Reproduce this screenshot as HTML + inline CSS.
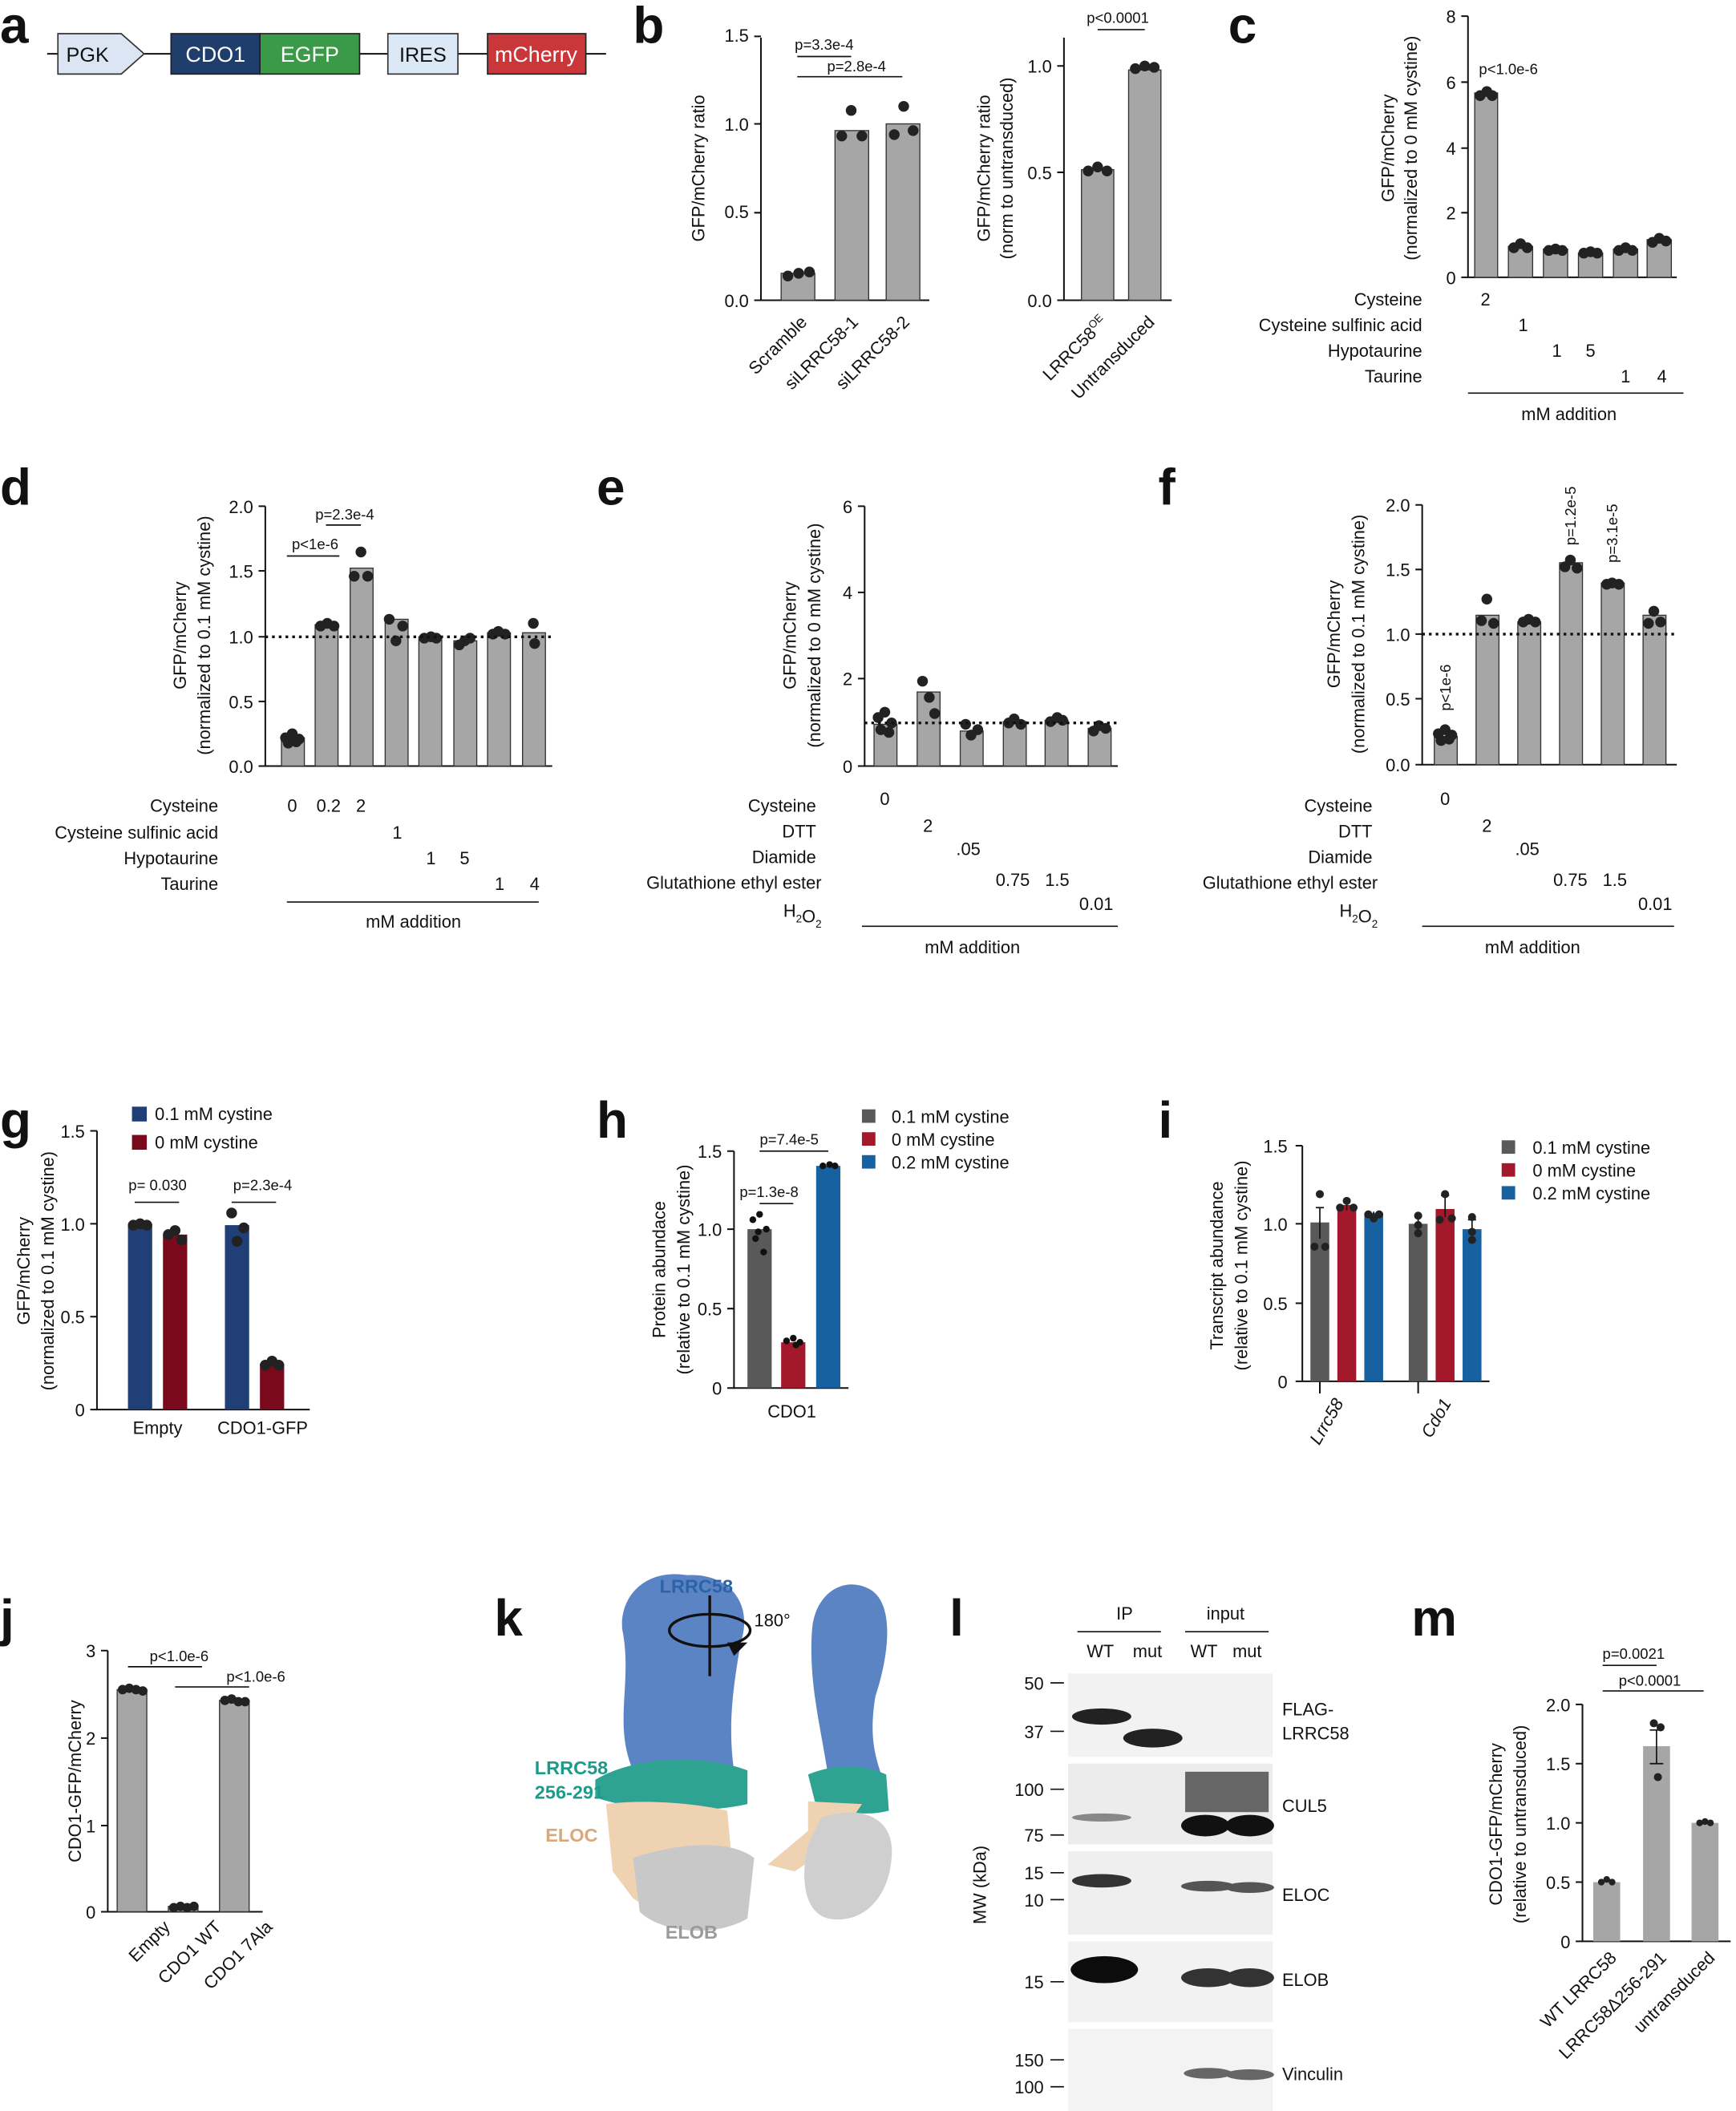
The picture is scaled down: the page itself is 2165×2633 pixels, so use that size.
<!DOCTYPE html>
<html><head><meta charset="utf-8"><style>
html,body{margin:0;padding:0;background:#fff}
svg{display:block}
text{font-family:"Liberation Sans",Arial,sans-serif;fill:#111}
.L{font-size:38px;font-weight:bold}
.t{font-size:13px}
.s{font-size:11px}
.ax{stroke:#111;stroke-width:1.2;fill:none}
.bar{fill:#a6a6a6;stroke:#333;stroke-width:0.8}
.dot{fill:#222}
.dash{stroke:#111;stroke-width:2;stroke-dasharray:2 3}
</style></head><body>
<svg width="2165" height="2633" viewBox="0 0 1289 1568" preserveAspectRatio="none" xmlns="http://www.w3.org/2000/svg">
<!-- a -->
<text class="L" x="0" y="32">a</text>
<line x1="35" y1="40" x2="450" y2="40" stroke="#111" stroke-width="1.2"/>
<polygon points="43,25 90,25 107,40 90,55 43,55" fill="#dbe5f4" stroke="#333"/>
<text x="65" y="46" font-size="15" text-anchor="middle">PGK</text>
<rect x="127" y="25" width="66" height="30" fill="#1f3e6c" stroke="#222"/>
<text x="160" y="46" font-size="16" text-anchor="middle" style="fill:#fff">CDO1</text>
<rect x="193" y="25" width="74" height="30" fill="#3b9a48" stroke="#222"/>
<text x="230" y="46" font-size="16" text-anchor="middle" style="fill:#fff">EGFP</text>
<rect x="288" y="25" width="52" height="30" fill="#dbe8f6" stroke="#333"/>
<text x="314" y="46" font-size="15" text-anchor="middle">IRES</text>
<rect x="362" y="25" width="73" height="30" fill="#c9373b" stroke="#222"/>
<text x="398" y="46" font-size="16" text-anchor="middle" style="fill:#fff">mCherry</text>

<!-- b -->
<text class="L" x="470" y="32">b</text>
<g>
<path class="ax" d="M565,28 V223 H690"/>
<path class="ax" d="M560,27H565M560,92H565M560,158H565M560,223H565"/>
<text class="t" x="556" y="31" text-anchor="end">1.5</text>
<text class="t" x="556" y="97" text-anchor="end">1.0</text>
<text class="t" x="556" y="162" text-anchor="end">0.5</text>
<text class="t" x="556" y="228" text-anchor="end">0.0</text>
<text class="t" transform="translate(523,125) rotate(-90)" text-anchor="middle">GFP/mCherry ratio</text>
<rect class="bar" x="580" y="203" width="25" height="20"/>
<rect class="bar" x="620" y="97" width="25" height="126"/>
<rect class="bar" x="658" y="92" width="25" height="131"/>
<circle class="dot" cx="585" cy="205" r="4"/><circle class="dot" cx="593" cy="203" r="4"/><circle class="dot" cx="601" cy="202" r="4"/>
<circle class="dot" cx="625" cy="101" r="4"/><circle class="dot" cx="632" cy="82" r="4"/><circle class="dot" cx="640" cy="101" r="4"/>
<circle class="dot" cx="664" cy="100" r="4"/><circle class="dot" cx="671" cy="79" r="4"/><circle class="dot" cx="678" cy="97" r="4"/>
<line x1="592" y1="42" x2="632" y2="42" stroke="#111"/><text class="s" x="612" y="37" text-anchor="middle">p=3.3e-4</text>
<line x1="592" y1="57" x2="670" y2="57" stroke="#111"/><text class="s" x="636" y="53" text-anchor="middle">p=2.8e-4</text>
<text class="t" transform="translate(600,240) rotate(-45)" text-anchor="end">Scramble</text>
<text class="t" transform="translate(638,240) rotate(-45)" text-anchor="end">siLRRC58-1</text>
<text class="t" transform="translate(676,240) rotate(-45)" text-anchor="end">siLRRC58-2</text>
</g>
<g>
<path class="ax" d="M790,28 V223 H870"/>
<path class="ax" d="M785,49H790M785,128H790M785,223H790"/>
<text class="t" x="781" y="54" text-anchor="end">1.0</text>
<text class="t" x="781" y="133" text-anchor="end">0.5</text>
<text class="t" x="781" y="228" text-anchor="end">0.0</text>
<text class="t" transform="translate(735,125) rotate(-90)" text-anchor="middle">GFP/mCherry ratio</text>
<text class="t" transform="translate(752,125) rotate(-90)" text-anchor="middle">(norm to untransduced)</text>
<rect class="bar" x="803" y="126" width="24" height="97"/>
<rect class="bar" x="838" y="52" width="24" height="171"/>
<circle class="dot" cx="808" cy="127" r="4"/><circle class="dot" cx="815" cy="124" r="4"/><circle class="dot" cx="822" cy="127" r="4"/>
<circle class="dot" cx="843" cy="51" r="4"/><circle class="dot" cx="850" cy="49" r="4"/><circle class="dot" cx="857" cy="50" r="4"/>
<line x1="815" y1="22" x2="850" y2="22" stroke="#111"/><text class="s" x="830" y="17" text-anchor="middle">p&lt;0.0001</text>
<text class="t" transform="translate(823,240) rotate(-45)" text-anchor="end">LRRC58<tspan font-size="8" dy="-5">OE</tspan></text>
<text class="t" transform="translate(858,240) rotate(-45)" text-anchor="end">Untransduced</text>
</g>

<!-- c -->
<text class="L" x="912" y="32">c</text>
<g>
<path class="ax" d="M1090,12 V206 H1245"/>
<path class="ax" d="M1085,12H1090M1085,61H1090M1085,110H1090M1085,158H1090M1085,206H1090"/>
<text class="t" x="1081" y="17" text-anchor="end">8</text>
<text class="t" x="1081" y="66" text-anchor="end">6</text>
<text class="t" x="1081" y="115" text-anchor="end">4</text>
<text class="t" x="1081" y="163" text-anchor="end">2</text>
<text class="t" x="1081" y="211" text-anchor="end">0</text>
<text class="t" transform="translate(1035,110) rotate(-90)" text-anchor="middle">GFP/mCherry</text>
<text class="t" transform="translate(1052,110) rotate(-90)" text-anchor="middle">(normalized to 0 mM cystine)</text>
<rect class="bar" x="1095" y="69" width="17" height="137"/>
<rect class="bar" x="1120" y="183" width="18" height="23"/>
<rect class="bar" x="1146" y="185" width="18" height="21"/>
<rect class="bar" x="1172" y="188" width="18" height="18"/>
<rect class="bar" x="1198" y="185" width="18" height="21"/>
<rect class="bar" x="1223" y="178" width="18" height="28"/>
<circle class="dot" cx="1099" cy="71" r="4"/><circle class="dot" cx="1104" cy="68" r="4"/><circle class="dot" cx="1108" cy="71" r="4"/>
<circle class="dot" cx="1124" cy="184" r="4"/><circle class="dot" cx="1129" cy="181" r="4"/><circle class="dot" cx="1134" cy="184" r="4"/>
<circle class="dot" cx="1150" cy="186" r="4"/><circle class="dot" cx="1155" cy="185" r="4"/><circle class="dot" cx="1160" cy="186" r="4"/>
<circle class="dot" cx="1176" cy="188" r="4"/><circle class="dot" cx="1181" cy="187" r="4"/><circle class="dot" cx="1186" cy="188" r="4"/>
<circle class="dot" cx="1202" cy="186" r="4"/><circle class="dot" cx="1207" cy="184" r="4"/><circle class="dot" cx="1212" cy="186" r="4"/>
<circle class="dot" cx="1227" cy="180" r="4"/><circle class="dot" cx="1232" cy="177" r="4"/><circle class="dot" cx="1237" cy="179" r="4"/>
<text class="s" x="1120" y="55" text-anchor="middle">p&lt;1.0e-6</text>
<text class="t" x="1056" y="227" text-anchor="end">Cysteine</text>
<text class="t" x="1056" y="246" text-anchor="end">Cysteine sulfinic acid</text>
<text class="t" x="1056" y="265" text-anchor="end">Hypotaurine</text>
<text class="t" x="1056" y="284" text-anchor="end">Taurine</text>
<text class="t" x="1103" y="227" text-anchor="middle">2</text>
<text class="t" x="1131" y="246" text-anchor="middle">1</text>
<text class="t" x="1156" y="265" text-anchor="middle">1</text><text class="t" x="1181" y="265" text-anchor="middle">5</text>
<text class="t" x="1207" y="284" text-anchor="middle">1</text><text class="t" x="1234" y="284" text-anchor="middle">4</text>
<line x1="1090" y1="292" x2="1250" y2="292" stroke="#111"/>
<text class="t" x="1165" y="312" text-anchor="middle">mM addition</text>
</g>

<!-- d -->
<text class="L" x="0" y="375">d</text>
<g>
<path class="ax" d="M197,376 V569 H410"/>
<path class="ax" d="M192,376H197M192,424H197M192,473H197M192,521H197M192,569H197"/>
<text class="t" x="188" y="381" text-anchor="end">2.0</text>
<text class="t" x="188" y="429" text-anchor="end">1.5</text>
<text class="t" x="188" y="478" text-anchor="end">1.0</text>
<text class="t" x="188" y="526" text-anchor="end">0.5</text>
<text class="t" x="188" y="574" text-anchor="end">0.0</text>
<text class="t" transform="translate(138,472) rotate(-90)" text-anchor="middle">GFP/mCherry</text>
<text class="t" transform="translate(156,472) rotate(-90)" text-anchor="middle">(normalized to 0.1 mM cystine)</text>
<rect class="bar" x="209" y="548" width="17" height="21"/>
<rect class="bar" x="234" y="464" width="17" height="105"/>
<rect class="bar" x="260" y="422" width="17" height="147"/>
<rect class="bar" x="286" y="460" width="17" height="109"/>
<rect class="bar" x="311" y="473" width="17" height="96"/>
<rect class="bar" x="337" y="476" width="17" height="93"/>
<rect class="bar" x="362" y="470" width="17" height="99"/>
<rect class="bar" x="388" y="470" width="17" height="99"/>
<circle class="dot" cx="212" cy="548" r="4"/><circle class="dot" cx="217" cy="545" r="4"/><circle class="dot" cx="222" cy="549" r="4"/><circle class="dot" cx="214" cy="552" r="4"/><circle class="dot" cx="220" cy="551" r="4"/>
<circle class="dot" cx="238" cy="465" r="4"/><circle class="dot" cx="243" cy="463" r="4"/><circle class="dot" cx="248" cy="465" r="4"/>
<circle class="dot" cx="263" cy="428" r="4"/><circle class="dot" cx="268" cy="410" r="4"/><circle class="dot" cx="273" cy="428" r="4"/>
<circle class="dot" cx="289" cy="460" r="4"/><circle class="dot" cx="294" cy="476" r="4"/><circle class="dot" cx="299" cy="465" r="4"/>
<circle class="dot" cx="315" cy="474" r="4"/><circle class="dot" cx="320" cy="473" r="4"/><circle class="dot" cx="324" cy="474" r="4"/>
<circle class="dot" cx="341" cy="479" r="4"/><circle class="dot" cx="345" cy="476" r="4"/><circle class="dot" cx="349" cy="474" r="4"/>
<circle class="dot" cx="366" cy="471" r="4"/><circle class="dot" cx="370" cy="469" r="4"/><circle class="dot" cx="375" cy="471" r="4"/>
<circle class="dot" cx="396" cy="463" r="4"/><circle class="dot" cx="397" cy="478" r="4"/>
<line x1="197" y1="473" x2="410" y2="473" class="dash"/>
<line x1="213" y1="413" x2="252" y2="413" stroke="#111"/><text class="s" x="234" y="408" text-anchor="middle">p&lt;1e-6</text>
<line x1="242" y1="390" x2="268" y2="390" stroke="#111"/><text class="s" x="256" y="386" text-anchor="middle">p=2.3e-4</text>
<text class="t" x="162" y="603" text-anchor="end">Cysteine</text>
<text class="t" x="162" y="623" text-anchor="end">Cysteine sulfinic acid</text>
<text class="t" x="162" y="642" text-anchor="end">Hypotaurine</text>
<text class="t" x="162" y="661" text-anchor="end">Taurine</text>
<text class="t" x="217" y="603" text-anchor="middle">0</text><text class="t" x="244" y="603" text-anchor="middle">0.2</text><text class="t" x="268" y="603" text-anchor="middle">2</text>
<text class="t" x="295" y="623" text-anchor="middle">1</text>
<text class="t" x="320" y="642" text-anchor="middle">1</text><text class="t" x="345" y="642" text-anchor="middle">5</text>
<text class="t" x="371" y="661" text-anchor="middle">1</text><text class="t" x="397" y="661" text-anchor="middle">4</text>
<line x1="213" y1="670" x2="400" y2="670" stroke="#111"/>
<text class="t" x="307" y="689" text-anchor="middle">mM addition</text>
</g>

<!-- e -->
<text class="L" x="443" y="375">e</text>
<g>
<path class="ax" d="M642,376 V569 H830"/>
<path class="ax" d="M637,376H642M637,440H642M637,504H642M637,569H642"/>
<text class="t" x="633" y="381" text-anchor="end">6</text>
<text class="t" x="633" y="445" text-anchor="end">4</text>
<text class="t" x="633" y="509" text-anchor="end">2</text>
<text class="t" x="633" y="574" text-anchor="end">0</text>
<text class="t" transform="translate(591,472) rotate(-90)" text-anchor="middle">GFP/mCherry</text>
<text class="t" transform="translate(609,472) rotate(-90)" text-anchor="middle">(normalized to 0 mM cystine)</text>
<rect class="bar" x="649" y="538" width="17" height="31"/>
<rect class="bar" x="681" y="514" width="17" height="55"/>
<rect class="bar" x="713" y="543" width="17" height="26"/>
<rect class="bar" x="745" y="536" width="17" height="33"/>
<rect class="bar" x="776" y="535" width="17" height="34"/>
<rect class="bar" x="808" y="541" width="17" height="28"/>
<circle class="dot" cx="652" cy="533" r="4"/><circle class="dot" cx="657" cy="529" r="4"/><circle class="dot" cx="662" cy="537" r="4"/><circle class="dot" cx="654" cy="542" r="4"/><circle class="dot" cx="660" cy="544" r="4"/>
<circle class="dot" cx="685" cy="506" r="4"/><circle class="dot" cx="690" cy="518" r="4"/><circle class="dot" cx="694" cy="530" r="4"/>
<circle class="dot" cx="717" cy="538" r="4"/><circle class="dot" cx="721" cy="546" r="4"/><circle class="dot" cx="726" cy="542" r="4"/>
<circle class="dot" cx="749" cy="537" r="4"/><circle class="dot" cx="753" cy="534" r="4"/><circle class="dot" cx="758" cy="538" r="4"/>
<circle class="dot" cx="780" cy="536" r="4"/><circle class="dot" cx="785" cy="533" r="4"/><circle class="dot" cx="789" cy="535" r="4"/>
<circle class="dot" cx="812" cy="543" r="4"/><circle class="dot" cx="816" cy="539" r="4"/><circle class="dot" cx="821" cy="541" r="4"/>
<line x1="642" y1="537" x2="830" y2="537" class="dash"/>
<text class="t" x="606" y="603" text-anchor="end">Cysteine</text>
<text class="t" x="606" y="622" text-anchor="end">DTT</text>
<text class="t" x="606" y="641" text-anchor="end">Diamide</text>
<text class="t" x="610" y="660" text-anchor="end">Glutathione ethyl ester</text>
<text class="t" x="610" y="681" text-anchor="end">H<tspan font-size="8" dy="4">2</tspan>O<tspan font-size="8" dy="4">2</tspan></text>
<text class="t" x="657" y="598" text-anchor="middle">0</text>
<text class="t" x="689" y="618" text-anchor="middle">2</text>
<text class="t" x="719" y="635" text-anchor="middle">.05</text>
<text class="t" x="752" y="658" text-anchor="middle">0.75</text><text class="t" x="785" y="658" text-anchor="middle">1.5</text>
<text class="t" x="814" y="676" text-anchor="middle">0.01</text>
<line x1="640" y1="688" x2="830" y2="688" stroke="#111"/>
<text class="t" x="722" y="708" text-anchor="middle">mM addition</text>
</g>

<!-- f -->
<text class="L" x="860" y="375">f</text>
<g>
<path class="ax" d="M1056,375 V568 H1245"/>
<path class="ax" d="M1051,375H1056M1051,423H1056M1051,471H1056M1051,519H1056M1051,568H1056"/>
<text class="t" x="1047" y="380" text-anchor="end">2.0</text>
<text class="t" x="1047" y="428" text-anchor="end">1.5</text>
<text class="t" x="1047" y="476" text-anchor="end">1.0</text>
<text class="t" x="1047" y="524" text-anchor="end">0.5</text>
<text class="t" x="1047" y="573" text-anchor="end">0.0</text>
<text class="t" transform="translate(995,471) rotate(-90)" text-anchor="middle">GFP/mCherry</text>
<text class="t" transform="translate(1013,471) rotate(-90)" text-anchor="middle">(normalized to 0.1 mM cystine)</text>
<rect class="bar" x="1065" y="547" width="17" height="21"/>
<rect class="bar" x="1096" y="457" width="17" height="111"/>
<rect class="bar" x="1127" y="462" width="17" height="106"/>
<rect class="bar" x="1158" y="418" width="17" height="150"/>
<rect class="bar" x="1189" y="433" width="17" height="135"/>
<rect class="bar" x="1220" y="457" width="17" height="111"/>
<circle class="dot" cx="1068" cy="545" r="4"/><circle class="dot" cx="1073" cy="542" r="4"/><circle class="dot" cx="1078" cy="546" r="4"/><circle class="dot" cx="1070" cy="550" r="4"/><circle class="dot" cx="1076" cy="549" r="4"/>
<circle class="dot" cx="1100" cy="461" r="4"/><circle class="dot" cx="1104" cy="445" r="4"/><circle class="dot" cx="1109" cy="463" r="4"/>
<circle class="dot" cx="1131" cy="462" r="4"/><circle class="dot" cx="1135" cy="460" r="4"/><circle class="dot" cx="1140" cy="462" r="4"/>
<circle class="dot" cx="1162" cy="421" r="4"/><circle class="dot" cx="1166" cy="416" r="4"/><circle class="dot" cx="1171" cy="422" r="4"/>
<circle class="dot" cx="1193" cy="434" r="4"/><circle class="dot" cx="1197" cy="433" r="4"/><circle class="dot" cx="1202" cy="434" r="4"/>
<circle class="dot" cx="1224" cy="463" r="4"/><circle class="dot" cx="1228" cy="454" r="4"/><circle class="dot" cx="1233" cy="462" r="4"/>
<line x1="1056" y1="471" x2="1245" y2="471" class="dash"/>
<text class="s" transform="translate(1077,528) rotate(-90)">p&lt;1e-6</text>
<text class="s" transform="translate(1170,405) rotate(-90)">p=1.2e-5</text>
<text class="s" transform="translate(1201,418) rotate(-90)">p=3.1e-5</text>
<text class="t" x="1019" y="603" text-anchor="end">Cysteine</text>
<text class="t" x="1019" y="622" text-anchor="end">DTT</text>
<text class="t" x="1019" y="641" text-anchor="end">Diamide</text>
<text class="t" x="1023" y="660" text-anchor="end">Glutathione ethyl ester</text>
<text class="t" x="1023" y="681" text-anchor="end">H<tspan font-size="8" dy="4">2</tspan>O<tspan font-size="8" dy="4">2</tspan></text>
<text class="t" x="1073" y="598" text-anchor="middle">0</text>
<text class="t" x="1104" y="618" text-anchor="middle">2</text>
<text class="t" x="1134" y="635" text-anchor="middle">.05</text>
<text class="t" x="1166" y="658" text-anchor="middle">0.75</text><text class="t" x="1199" y="658" text-anchor="middle">1.5</text>
<text class="t" x="1229" y="676" text-anchor="middle">0.01</text>
<line x1="1056" y1="688" x2="1243" y2="688" stroke="#111"/>
<text class="t" x="1138" y="708" text-anchor="middle">mM addition</text>
</g>

<!-- g -->
<text class="L" x="0" y="845">g</text>
<g>
<path class="ax" d="M72,840 V1047 H230"/>
<path class="ax" d="M67,840H72M67,909H72M67,978H72M67,1047H72"/>
<text class="t" x="63" y="845" text-anchor="end">1.5</text>
<text class="t" x="63" y="914" text-anchor="end">1.0</text>
<text class="t" x="63" y="983" text-anchor="end">0.5</text>
<text class="t" x="63" y="1052" text-anchor="end">0</text>
<text class="t" transform="translate(22,944) rotate(-90)" text-anchor="middle">GFP/mCherry</text>
<text class="t" transform="translate(40,944) rotate(-90)" text-anchor="middle">(normalized to 0.1 mM cystine)</text>
<rect x="98" y="822" width="11" height="11" fill="#1f3f76"/><text class="t" x="115" y="832">0.1 mM cystine</text>
<rect x="98" y="843" width="11" height="11" fill="#7a0a1b"/><text class="t" x="115" y="853">0 mM cystine</text>
<rect x="95" y="909" width="18" height="138" fill="#1f3f76"/>
<rect x="121" y="917" width="18" height="130" fill="#7a0a1b"/>
<rect x="167" y="910" width="18" height="137" fill="#1f3f76"/>
<rect x="193" y="1013" width="18" height="34" fill="#7a0a1b"/>
<circle class="dot" cx="99" cy="910" r="4"/><circle class="dot" cx="104" cy="909" r="4"/><circle class="dot" cx="109" cy="910" r="4"/>
<circle class="dot" cx="125" cy="917" r="4"/><circle class="dot" cx="130" cy="914" r="4"/><circle class="dot" cx="135" cy="921" r="4"/>
<circle class="dot" cx="172" cy="901" r="4"/><circle class="dot" cx="176" cy="922" r="4"/><circle class="dot" cx="181" cy="912" r="4"/>
<circle class="dot" cx="197" cy="1014" r="4"/><circle class="dot" cx="202" cy="1011" r="4"/><circle class="dot" cx="207" cy="1014" r="4"/>
<text class="s" x="117" y="884" text-anchor="middle">p= 0.030</text>
<line x1="100" y1="893" x2="133" y2="893" stroke="#111"/>
<text class="s" x="195" y="884" text-anchor="middle">p=2.3e-4</text>
<line x1="172" y1="893" x2="205" y2="893" stroke="#111"/>
<text class="t" x="117" y="1065" text-anchor="middle">Empty</text>
<text class="t" x="195" y="1065" text-anchor="middle">CDO1-GFP</text>
</g>

<!-- h -->
<text class="L" x="443" y="845">h</text>
<g>
<path class="ax" d="M545,855 V1031 H630"/>
<path class="ax" d="M540,855H545M540,913H545M540,972H545M540,1031H545"/>
<text class="t" x="536" y="860" text-anchor="end">1.5</text>
<text class="t" x="536" y="918" text-anchor="end">1.0</text>
<text class="t" x="536" y="977" text-anchor="end">0.5</text>
<text class="t" x="536" y="1036" text-anchor="end">0</text>
<text class="t" transform="translate(494,943) rotate(-90)" text-anchor="middle">Protein abundace</text>
<text class="t" transform="translate(512,943) rotate(-90)" text-anchor="middle">(relative to 0.1 mM cystine)</text>
<rect x="555" y="913" width="18" height="118" fill="#595959"/>
<rect x="580" y="997" width="18" height="34" fill="#a3182b"/>
<rect x="606" y="866" width="18" height="165" fill="#1761a0"/>
<circle cx="559" cy="906" r="2.5" fill="#111"/><circle cx="564" cy="902" r="2.5" fill="#111"/><circle cx="569" cy="913" r="2.5" fill="#111"/><circle cx="561" cy="920" r="2.5" fill="#111"/><circle cx="567" cy="930" r="2.5" fill="#111"/><circle cx="563" cy="915" r="2.5" fill="#111"/>
<circle cx="584" cy="996" r="2.5" fill="#111"/><circle cx="589" cy="994" r="2.5" fill="#111"/><circle cx="594" cy="997" r="2.5" fill="#111"/><circle cx="591" cy="999" r="2.5" fill="#111"/>
<circle cx="611" cy="866" r="2.5" fill="#111"/><circle cx="616" cy="865" r="2.5" fill="#111"/><circle cx="620" cy="866" r="2.5" fill="#111"/>
<text class="s" x="586" y="850" text-anchor="middle">p=7.4e-5</text>
<line x1="564" y1="855" x2="615" y2="855" stroke="#111"/>
<text class="s" x="571" y="889" text-anchor="middle">p=1.3e-8</text>
<line x1="564" y1="894" x2="589" y2="894" stroke="#111"/>
<text class="t" x="588" y="1053" text-anchor="middle">CDO1</text>
<rect x="640" y="824" width="10" height="10" fill="#595959"/><text class="t" x="662" y="834">0.1 mM cystine</text>
<rect x="640" y="841" width="10" height="10" fill="#a3182b"/><text class="t" x="662" y="851">0 mM cystine</text>
<rect x="640" y="858" width="10" height="10" fill="#1761a0"/><text class="t" x="662" y="868">0.2 mM cystine</text>
</g>

<!-- i -->
<text class="L" x="860" y="845">i</text>
<g>
<path class="ax" d="M967,851 V1026 H1106"/>
<path class="ax" d="M962,851H967M962,909H967M962,968H967M962,1026H967M980,1026V1035M1053,1026V1035"/>
<text class="t" x="956" y="856" text-anchor="end">1.5</text>
<text class="t" x="956" y="914" text-anchor="end">1.0</text>
<text class="t" x="956" y="973" text-anchor="end">0.5</text>
<text class="t" x="956" y="1031" text-anchor="end">0</text>
<text class="t" transform="translate(908,940) rotate(-90)" text-anchor="middle">Transcript abundance</text>
<text class="t" transform="translate(926,940) rotate(-90)" text-anchor="middle">(relative to 0.1 mM cystine)</text>
<rect x="973" y="908" width="14" height="118" fill="#595959"/>
<rect x="993" y="895" width="14" height="131" fill="#a3182b"/>
<rect x="1013" y="901" width="14" height="125" fill="#1761a0"/>
<rect x="1046" y="909" width="14" height="117" fill="#595959"/>
<rect x="1066" y="898" width="14" height="128" fill="#a3182b"/>
<rect x="1086" y="913" width="14" height="113" fill="#1761a0"/>
<path d="M980,897V920M977,897H983M1000,893V899M1020,900V904M1053,905V914M1073,888V904M1070,888H1076M1093,906V918M1090,906H1096" stroke="#111" fill="none"/>
<circle class="dot" cx="976" cy="926" r="3"/><circle class="dot" cx="980" cy="887" r="3"/><circle class="dot" cx="984" cy="926" r="3"/>
<circle class="dot" cx="995" cy="897" r="3"/><circle class="dot" cx="1000" cy="892" r="3"/><circle class="dot" cx="1005" cy="897" r="3"/>
<circle class="dot" cx="1016" cy="902" r="3"/><circle class="dot" cx="1020" cy="905" r="3"/><circle class="dot" cx="1024" cy="902" r="3"/>
<circle class="dot" cx="1053" cy="903" r="3"/><circle class="dot" cx="1053" cy="910" r="3"/><circle class="dot" cx="1053" cy="916" r="3"/>
<circle class="dot" cx="1069" cy="906" r="3"/><circle class="dot" cx="1073" cy="887" r="3"/><circle class="dot" cx="1078" cy="905" r="3"/>
<circle class="dot" cx="1093" cy="904" r="3"/><circle class="dot" cx="1093" cy="915" r="3"/><circle class="dot" cx="1093" cy="921" r="3"/>
<text class="t" font-style="italic" transform="translate(998,1042) rotate(-60)" text-anchor="end">Lrrc58</text>
<text class="t" font-style="italic" transform="translate(1078,1042) rotate(-60)" text-anchor="end">Cdo1</text>
<rect x="1115" y="847" width="10" height="10" fill="#595959"/><text class="t" x="1138" y="857">0.1 mM cystine</text>
<rect x="1115" y="864" width="10" height="10" fill="#a3182b"/><text class="t" x="1138" y="874">0 mM cystine</text>
<rect x="1115" y="881" width="10" height="10" fill="#1761a0"/><text class="t" x="1138" y="891">0.2 mM cystine</text>
</g>

<!-- j -->
<text class="L" x="0" y="1215">j</text>
<g>
<path class="ax" d="M80,1226 V1420 H195"/>
<path class="ax" d="M75,1226H80M75,1291H80M75,1356H80M75,1420H80"/>
<text class="t" x="71" y="1231" text-anchor="end">3</text>
<text class="t" x="71" y="1296" text-anchor="end">2</text>
<text class="t" x="71" y="1361" text-anchor="end">1</text>
<text class="t" x="71" y="1425" text-anchor="end">0</text>
<text class="t" transform="translate(60,1323) rotate(-90)" text-anchor="middle">CDO1-GFP/mCherry</text>
<rect class="bar" x="87" y="1255" width="22" height="165"/>
<rect class="bar" x="125" y="1416" width="22" height="4"/>
<rect class="bar" x="163" y="1263" width="22" height="157"/>
<circle class="dot" cx="91" cy="1255" r="3.5"/><circle class="dot" cx="96" cy="1254" r="3.5"/><circle class="dot" cx="101" cy="1255" r="3.5"/><circle class="dot" cx="106" cy="1256" r="3.5"/>
<circle class="dot" cx="129" cy="1417" r="3.5"/><circle class="dot" cx="134" cy="1416" r="3.5"/><circle class="dot" cx="139" cy="1417" r="3.5"/><circle class="dot" cx="144" cy="1416" r="3.5"/>
<circle class="dot" cx="167" cy="1263" r="3.5"/><circle class="dot" cx="172" cy="1262" r="3.5"/><circle class="dot" cx="177" cy="1264" r="3.5"/><circle class="dot" cx="182" cy="1264" r="3.5"/>
<text class="s" x="133" y="1234" text-anchor="middle">p&lt;1.0e-6</text>
<line x1="95" y1="1238" x2="150" y2="1238" stroke="#111"/>
<text class="s" x="190" y="1249" text-anchor="middle">p&lt;1.0e-6</text>
<line x1="130" y1="1253" x2="185" y2="1253" stroke="#111"/>
<text class="t" transform="translate(127,1432) rotate(-45)" text-anchor="end">Empty</text>
<text class="t" transform="translate(165,1432) rotate(-45)" text-anchor="end">CDO1 WT</text>
<text class="t" transform="translate(203,1432) rotate(-45)" text-anchor="end">CDO1 7Ala</text>
</g>

<!-- k -->
<text class="L" x="367" y="1215">k</text>
<g>
<path d="M470,1315 C455,1280 470,1250 462,1210 C460,1185 480,1165 510,1170 C540,1168 560,1190 550,1220 C545,1250 540,1280 545,1315 Z" fill="#5b84c4"/>
<path d="M442,1322 C470,1305 520,1302 555,1315 L555,1340 C520,1348 470,1345 442,1335 Z" fill="#2fa391"/>
<path d="M450,1340 C480,1336 520,1340 540,1345 L545,1400 C520,1420 490,1425 470,1410 L455,1390 Z" fill="#efd2b1"/>
<path d="M470,1380 C500,1370 540,1365 560,1380 L555,1425 C530,1440 490,1435 475,1420 Z" fill="#c8c8c8"/>
<path d="M615,1320 C610,1285 600,1250 603,1210 C605,1185 625,1170 645,1180 C665,1190 660,1230 650,1260 C645,1290 650,1305 655,1320 Z" fill="#5b84c4"/>
<path d="M600,1318 C620,1310 640,1310 658,1318 L660,1345 C640,1350 620,1345 605,1338 Z" fill="#2fa391"/>
<path d="M600,1338 L640,1340 L620,1370 L590,1390 L570,1385 L600,1360 Z" fill="#efd2b1"/>
<path d="M610,1350 C640,1340 665,1350 662,1380 C660,1410 640,1430 615,1425 C595,1420 595,1390 600,1370 Z" fill="#cfcfcf"/>
<ellipse cx="527" cy="1211" rx="30" ry="12" fill="none" stroke="#111" stroke-width="2"/>
<line x1="527" y1="1185" x2="527" y2="1245" stroke="#111" stroke-width="2"/>
<polygon points="540,1220 555,1220 545,1230" fill="#111"/>
<text class="t" x="560" y="1208">180°</text>
<text x="517" y="1183" font-size="14" font-weight="bold" text-anchor="middle" style="fill:#2c63a8">LRRC58</text>
<text x="397" y="1318" font-size="14" font-weight="bold" style="fill:#1e9a8a">LRRC58</text>
<text x="397" y="1336" font-size="14" font-weight="bold" style="fill:#1e9a8a">256-291</text>
<text x="405" y="1368" font-size="14" font-weight="bold" style="fill:#d7a97c">ELOC</text>
<text x="494" y="1440" font-size="14" font-weight="bold" style="fill:#9a9a9a">ELOB</text>
</g>

<!-- l -->
<text class="L" x="705" y="1215">l</text>
<g>
<text class="t" x="835" y="1203" text-anchor="middle">IP</text>
<text class="t" x="910" y="1203" text-anchor="middle">input</text>
<line x1="800" y1="1212" x2="862" y2="1212" stroke="#111"/>
<line x1="880" y1="1212" x2="942" y2="1212" stroke="#111"/>
<text class="t" x="817" y="1231" text-anchor="middle">WT</text><text class="t" x="852" y="1231" text-anchor="middle">mut</text>
<text class="t" x="894" y="1231" text-anchor="middle">WT</text><text class="t" x="926" y="1231" text-anchor="middle">mut</text>
<rect x="793" y="1243" width="152" height="62" fill="#f2f2f2"/>
<rect x="793" y="1310" width="152" height="60" fill="#ececec"/>
<rect x="793" y="1375" width="152" height="62" fill="#efefef"/>
<rect x="793" y="1442" width="152" height="60" fill="#f2f2f2"/>
<rect x="793" y="1507" width="152" height="61" fill="#f3f3f3"/>
<ellipse cx="818" cy="1275" rx="22" ry="6" fill="#222"/>
<ellipse cx="856" cy="1291" rx="22" ry="7" fill="#222"/>
<rect x="880" y="1316" width="62" height="30" fill="#666"/>
<ellipse cx="895" cy="1356" rx="18" ry="8" fill="#111"/><ellipse cx="928" cy="1356" rx="18" ry="8" fill="#111"/>
<ellipse cx="818" cy="1350" rx="22" ry="3" fill="#888"/>
<ellipse cx="818" cy="1397" rx="22" ry="5" fill="#333"/>
<ellipse cx="897" cy="1401" rx="20" ry="4" fill="#555"/><ellipse cx="928" cy="1402" rx="18" ry="4" fill="#555"/>
<ellipse cx="820" cy="1463" rx="25" ry="10" fill="#0c0c0c"/>
<ellipse cx="897" cy="1469" rx="20" ry="7" fill="#333"/><ellipse cx="928" cy="1469" rx="18" ry="7" fill="#333"/>
<ellipse cx="897" cy="1540" rx="18" ry="4" fill="#666"/><ellipse cx="928" cy="1541" rx="18" ry="4" fill="#666"/>
<text class="t" x="775" y="1255" text-anchor="end">50</text>
<text class="t" x="775" y="1291" text-anchor="end">37</text>
<text class="t" x="775" y="1334" text-anchor="end">100</text>
<text class="t" x="775" y="1368" text-anchor="end">75</text>
<text class="t" x="775" y="1396" text-anchor="end">15</text>
<text class="t" x="775" y="1416" text-anchor="end">10</text>
<text class="t" x="775" y="1477" text-anchor="end">15</text>
<text class="t" x="775" y="1535" text-anchor="end">150</text>
<text class="t" x="775" y="1555" text-anchor="end">100</text>
<path d="M780,1250H790M780,1286H790M780,1329H790M780,1363H790M780,1391H790M780,1411H790M780,1472H790M780,1530H790M780,1550H790" stroke="#111"/>
<text class="t" transform="translate(732,1400) rotate(-90)" text-anchor="middle">MW (kDa)</text>
<text class="t" x="952" y="1274">FLAG-</text>
<text class="t" x="952" y="1292">LRRC58</text>
<text class="t" x="952" y="1346">CUL5</text>
<text class="t" x="952" y="1412">ELOC</text>
<text class="t" x="952" y="1475">ELOB</text>
<text class="t" x="952" y="1545">Vinculin</text>
</g>

<!-- m -->
<text class="L" x="1048" y="1215">m</text>
<g>
<path class="ax" d="M1175,1266 V1442 H1285"/>
<path class="ax" d="M1170,1266H1175M1170,1310H1175M1170,1354H1175M1170,1398H1175M1170,1442H1175"/>
<text class="t" x="1166" y="1271" text-anchor="end">2.0</text>
<text class="t" x="1166" y="1315" text-anchor="end">1.5</text>
<text class="t" x="1166" y="1359" text-anchor="end">1.0</text>
<text class="t" x="1166" y="1403" text-anchor="end">0.5</text>
<text class="t" x="1166" y="1447" text-anchor="end">0</text>
<text class="t" transform="translate(1115,1355) rotate(-90)" text-anchor="middle">CDO1-GFP/mCherry</text>
<text class="t" transform="translate(1133,1355) rotate(-90)" text-anchor="middle">(relative to untransduced)</text>
<rect x="1183" y="1398" width="20" height="44" fill="#a6a6a6"/>
<rect x="1220" y="1297" width="20" height="145" fill="#a6a6a6"/>
<rect x="1256" y="1354" width="20" height="88" fill="#a6a6a6"/>
<path d="M1230,1285V1310M1225,1285H1235M1225,1310H1235" stroke="#111"/>
<circle class="dot" cx="1189" cy="1398" r="2.5"/><circle class="dot" cx="1193" cy="1396" r="2.5"/><circle class="dot" cx="1197" cy="1398" r="2.5"/>
<circle class="dot" cx="1228" cy="1280" r="3"/><circle class="dot" cx="1231" cy="1320" r="3"/><circle class="dot" cx="1233" cy="1283" r="3"/>
<circle class="dot" cx="1262" cy="1354" r="2.5"/><circle class="dot" cx="1266" cy="1353" r="2.5"/><circle class="dot" cx="1270" cy="1354" r="2.5"/>
<text class="s" x="1213" y="1232" text-anchor="middle">p=0.0021</text>
<line x1="1190" y1="1237" x2="1230" y2="1237" stroke="#111"/>
<text class="s" x="1225" y="1252" text-anchor="middle">p&lt;0.0001</text>
<line x1="1190" y1="1256" x2="1265" y2="1256" stroke="#111"/>
<text class="t" transform="translate(1201,1455) rotate(-45)" text-anchor="end">WT LRRC58</text>
<text class="t" transform="translate(1238,1455) rotate(-45)" text-anchor="end">LRRC58Δ256-291</text>
<text class="t" transform="translate(1274,1455) rotate(-45)" text-anchor="end">untransduced</text>
</g>
</svg>
</body></html>
